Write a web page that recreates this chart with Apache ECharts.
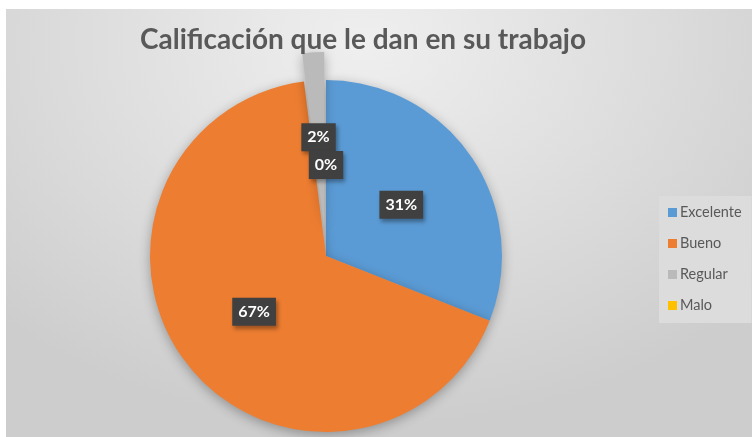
<!DOCTYPE html>
<html>
<head>
<meta charset="utf-8">
<script src="https://cdn.jsdelivr.net/npm/echarts@6/dist/echarts.min.js"></script>
<style>
  html, body { margin: 0; padding: 0; background: #ffffff; }
  #bg {
    position: absolute; left: 6px; top: 9px; width: 746px; height: 428px;
    background: radial-gradient(ellipse 70% 90% at 48% 8%, #efefef 0%, #e0e0e0 45%, #cdcdcd 100%);
  }
  #main { position: absolute; left: 0; top: 0; width: 752px; height: 437px; }
</style>
</head>
<body>
<div id="bg"></div>
<div id="main"></div>
<script>
// datos
const categorias = ['Excelente', 'Bueno', 'Regular', 'Malo'];
const valores = [31, 67, 2, 0];
const colores = ['#5b9bd5', '#ed7d31', '#bababa', '#ffc000'];
const titulo = 'Calificación que le dan en su trabajo';

const chart = echarts.init(document.getElementById('main'), null, { renderer: 'canvas' });

const data = categorias.map((name, i) => ({
  name: name,
  value: valores[i],
  selected: name === 'Regular',
  itemStyle: { color: colores[i] }
}));

const option = {
  animation: false,
  backgroundColor: 'transparent',
  title: {
    text: titulo,
    left: 358,
    top: 21,
    textAlign: 'center',
    textStyle: {
      fontFamily: 'Lato',
      fontWeight: 'bold',
      fontSize: 28,
      color: '#595959'
    }
  },
  legend: {
    orient: 'vertical',
    left: 659,
    top: 196,
    width: 92,
    padding: [9, 10, 10, 9],
    backgroundColor: '#dcdcdc',
    itemWidth: 9,
    itemHeight: 9,
    itemGap: 16,
    icon: 'rect',
    selectedMode: false,
    textStyle: {
      fontFamily: 'Lato',
      fontSize: 14.5,
      color: '#595959',
      padding: [0, 0, 0, -2]
    },
    data: categorias
  },
  series: [{
    type: 'pie',
    center: [326, 256],
    radius: [0, 176],
    startAngle: 90,
    clockwise: true,
    selectedMode: 'single',
    selectedOffset: 28,
    avoidLabelOverlap: false,
    emphasis: { disabled: true },
    itemStyle: {
      shadowBlur: 12,
      shadowOffsetY: 3,
      shadowColor: 'rgba(0,0,0,0.3)'
    },
    label: {
      show: true,
      position: 'inside',
      formatter: '{d}%',
      fontFamily: 'Lato',
      fontWeight: 'bold',
      fontSize: 16,
      color: '#ffffff',
      backgroundColor: '#404040',
      padding: [7, 6, 5, 6],
      shadowBlur: 4,
      shadowOffsetX: 2,
      shadowOffsetY: 3,
      shadowColor: 'rgba(0,0,0,0.35)'
    },
    labelLine: { show: false },
    data: data
  }]
};

chart.setOption(option);

// echarts oculta la etiqueta de los sectores con valor 0; en el original sale "0%"
const serieData = chart.getModel().getSeriesByIndex(0).getData();
for (let i = 0; i < serieData.count(); i++) {
  const el = serieData.getItemGraphicEl(i);
  const txt = el && el.getTextContent();
  if (txt && serieData.get('value', i) === 0) {
    txt.ignore = false;
    txt.markRedraw();
  }
}
chart.getZr().refresh();
</script>
</body>
</html>
